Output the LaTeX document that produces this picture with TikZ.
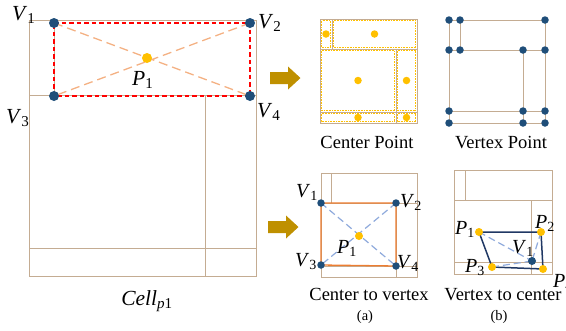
\documentclass[tikz,border=0pt]{standalone}
\usepackage{fontspec}
\setmainfont{Liberation Serif}
\usetikzlibrary{positioning, backgrounds}

\definecolor{gridtan}{RGB}{196,172,146}
\definecolor{dotnavy}{RGB}{31,78,121}
\definecolor{dotyellow}{RGB}{255,192,0}
\definecolor{arrowgold}{RGB}{191,144,0}
\definecolor{crossorange}{RGB}{244,177,131}
\definecolor{rectorange}{RGB}{237,125,49}
\definecolor{crossblue}{RGB}{143,170,220}
\definecolor{quadnavy}{RGB}{32,56,100}

\newcommand{\sublbl}[2]{\textit{#1}\textsubscript{#2}}

\begin{document}
\begin{tikzpicture}[
  x=1pt, y=-1pt,
  gridline/.style={draw=gridtan, line width=0.9pt},
  celloutline/.style={draw=dotyellow, line width=0.6pt, densely dotted},
  navydot/.style={circle, fill=dotnavy, inner sep=0pt, minimum size=7.5pt},
  yellowdot/.style={circle, fill=dotyellow, inner sep=0pt, minimum size=7.5pt},
  bigdot/.style={minimum size=10pt},
  vlabel/.style={inner sep=0pt, anchor=base west, font=\fontsize{21.5}{23}\selectfont},
  smalllabel/.style={inner sep=0pt, anchor=base west, font=\fontsize{20}{22}\selectfont},
  caption/.style={inner sep=0pt, anchor=base, font=\fontsize{18.5}{20}\selectfont},
  sublabel/.style={inner sep=0pt, font=\fontsize{14.5}{16}\selectfont},
  goldarrow/.style={fill=arrowgold},
  reddash/.style={draw=red, line width=1.6pt, dash pattern=on 4.5pt off 3pt},
  crossline/.style={draw=crossorange, line width=1.3pt, dash pattern=on 9pt off 5pt},
  bluedash/.style={draw=crossblue, line width=1.2pt, dash pattern=on 7pt off 4pt},
  quadline/.style={draw=quadnavy, line width=1.5pt, line join=round}
]
\useasboundingbox (0,0) rectangle (566,330);

% Cell grid
\begin{scope}[on background layer]
  \draw[gridline] (29,20) rectangle (256,276);
  \draw[gridline] (29,95) -- (256,95) (29,248) -- (256,248) (205,95) -- (205,276) (54,20) -- (54,95);
  % Center Point grid
  \draw[gridline] (320,19) rectangle (417,123);
  \draw[gridline] (320,49) -- (417,49) (332,19) -- (332,49) (396,49) -- (396,123) (320,112) -- (417,112);
  % Vertex Point grid
  \draw[gridline] (449,20) rectangle (545,123);
  \draw[gridline] (449,50) -- (545,50) (460,20) -- (460,50) (523,50) -- (523,123) (449,111) -- (545,111);
  % (a) grid
  \draw[gridline] (321,173) rectangle (417,277);
  \draw[gridline] (331,173) -- (331,203) (321,203) -- (417,203) (396,203) -- (396,277) (321,266) -- (417,266);
  % (b) grid
  \draw[gridline] (454,170) rectangle (552,274);
  \draw[gridline] (465,170) -- (465,200) (454,200) -- (552,200) (531,200) -- (531,274) (454,262) -- (552,262);
\end{scope}

% Cell vertices and center
\node[navydot, bigdot] (V1) at (54,23) {};
\node[navydot, bigdot] (V2) at (250,23) {};
\node[navydot, bigdot] (V3) at (54,96) {};
\node[navydot, bigdot] (V4) at (250,96) {};
\node[yellowdot, bigdot] (P1) at (147,58) {};

\node[vlabel] (V1lbl) at (12,20) {\sublbl{V}{1}};
\node[vlabel] (V2lbl) at (258,28) {\sublbl{V}{2}};
\node[vlabel] (V3lbl) at (6,123) {\sublbl{V}{3}};
\node[vlabel] (V4lbl) at (257,117) {\sublbl{V}{4}};
\node[vlabel] (P1lbl) at (132,85) {\sublbl{P}{1}};
\node[vlabel, anchor=base] (celllbl) at (147,305) {\textit{Cell}\textsubscript{\textit{p}1}};

\begin{scope}[on background layer]
  \draw[reddash] (V1.center) -- (V2.center) -- (V4.center) -- (V3.center) -- cycle;
  \draw[crossline] (V1.center) -- (V4.center) (V2.center) -- (V3.center);
\end{scope}

% Arrows
\fill[goldarrow] (270,78) ++(0,-6) -- ++(18,0) -- ++(0,-5.5) -- ++(12.5,11.5) -- ++(-12.5,11.5) -- ++(0,-5.5) -- ++(-18,0) -- cycle;
\fill[goldarrow] (268,227) ++(0,-6) -- ++(18,0) -- ++(0,-5.5) -- ++(12.5,11.5) -- ++(-12.5,11.5) -- ++(0,-5.5) -- ++(-18,0) -- cycle;

% Center Point
\foreach \xa/\ya/\xb/\yb [count=\i] in {320/19/332/49, 332/19/417/49, 320/49/396/112, 396/49/417/112, 320/112/396/123, 396/112/417/123} {
  \draw[celloutline] (\xa+1.5,\ya+1.5) rectangle (\xb-1.5,\yb-1.5);
  \node[yellowdot] (cp\i) at ({(\xa+\xb)/2},{(\ya+\yb)/2}) {};
}
\node[caption] (centercap) at (367,148) {Center Point};

% Vertex Point
\foreach \px/\py [count=\i] in {449/20, 460/20, 545/20, 449/50, 460/50, 523/50, 545/50, 449/111, 523/111, 545/111, 449/123, 523/123, 545/123}
  \node[navydot] (vp\i) at (\px,\py) {};
\node[caption] (vertexcap) at (501,148) {Vertex Point};

% (a) Center to vertex
\node[navydot] (av1) at (321,203) {};
\node[navydot] (av2) at (396,203) {};
\node[navydot] (av3) at (321,265) {};
\node[navydot] (av4) at (396,266) {};
\node[yellowdot, minimum size=8pt] (ap1) at (359,236) {};
\begin{scope}[on background layer]
  \draw[rectorange, line width=1.3pt] (av1.center) -- (av2.center) -- (av4.center) -- (av3.center) -- cycle;
  \draw[bluedash] (av1.center) -- (av4.center) (av2.center) -- (av3.center);
\end{scope}
\node[smalllabel] (av1lbl) at (296,197) {\sublbl{V}{1}};
\node[smalllabel] (av2lbl) at (400,207) {\sublbl{V}{2}};
\node[smalllabel] (av3lbl) at (295,266) {\sublbl{V}{3}};
\node[smalllabel] (av4lbl) at (397,268) {\sublbl{V}{4}};
\node[smalllabel] (ap1lbl) at (337,253) {\sublbl{P}{1}};
\node[caption] (ctovcap) at (369,300) {Center to vertex};
\node[sublabel, below=10pt of ctovcap, xshift=-4pt] (acap) {(a)};

% (b) Vertex to center
\node[yellowdot, minimum size=8pt] (bp1) at (479,232) {};
\node[yellowdot, minimum size=8pt] (bp2) at (541,232) {};
\node[yellowdot, minimum size=8pt] (bp3) at (492,267) {};
\node[yellowdot, minimum size=8pt] (bp4) at (543,269) {};
\node[navydot, minimum size=8pt] (bv1) at (532,261) {};
\begin{scope}[on background layer]
  \draw[quadline] (bp1.center) -- (bp2.center) -- (bp4.center) -- (bp3.center) -- cycle;
  \draw[bluedash] (bp1.center) -- (bv1.center) (bp2.center) -- (bv1.center) (bp3.center) -- (bv1.center);
\end{scope}
\node[smalllabel] (bp1lbl) at (455,234) {\sublbl{P}{1}};
\node[smalllabel] (bp2lbl) at (535,228) {\sublbl{P}{2}};
\node[smalllabel] (bv1lbl) at (512,253) {\sublbl{V}{1}};
\node[smalllabel] (bp3lbl) at (465,272) {\sublbl{P}{3}};
\node[smalllabel] (bp4lbl) at (553,287) {\sublbl{P}{4}};
\node[caption] (vtoccap) at (503,300) {Vertex to center};
\node[sublabel, below=10pt of vtoccap, xshift=-4pt] (bcap) {(b)};

\end{tikzpicture}
\end{document}
